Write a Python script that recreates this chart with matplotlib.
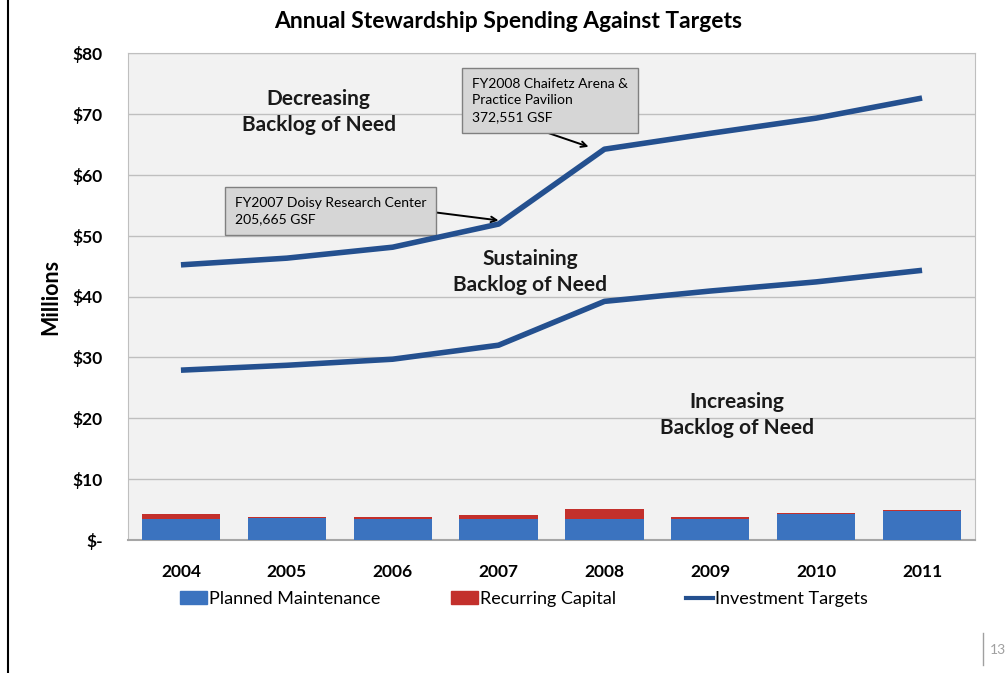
import matplotlib
matplotlib.use("Agg")
import matplotlib.pyplot as plt
import numpy as np
from matplotlib.patches import Patch
from matplotlib.lines import Line2D

plt.rcParams['font.family'] = ['Lato', 'DejaVu Sans']

years = ["2004", "2005", "2006", "2007", "2008", "2009", "2010", "2011"]
planned_maintenance = [3.45, 3.56, 3.50, 3.45, 3.45, 3.50, 4.32, 4.70]
recurring_capital = [0.90, 0.16, 0.33, 0.65, 1.70, 0.33, 0.16, 0.22]
target_upper = [45.2, 46.3, 48.1, 51.9, 64.2, 66.8, 69.3, 72.6]
target_lower = [27.9, 28.7, 29.7, 32.0, 39.2, 40.9, 42.4, 44.3]
ytick_vals = [0, 10, 20, 30, 40, 50, 60, 70, 80]
ytick_labels = ["$-", "$10", "$20", "$30", "$40", "$50", "$60", "$70", "$80"]

fig = plt.figure(figsize=(10.05, 6.73), dpi=100)
ax = fig.add_axes([128/1005, 1-540/673, (975-128)/1005, (540-53)/673])
ax.set_facecolor('#f2f2f2')

x = np.arange(len(years))
line_color = '#24508f'
ax.bar(x, planned_maintenance, width=0.74, color='#3b73bf', zorder=3,
       label='Planned Maintenance')
ax.bar(x, recurring_capital, bottom=planned_maintenance, width=0.74,
       color='#c3302c', zorder=3, label='Recurring Capital')
ax.plot(x, target_upper, color=line_color, lw=4.0, zorder=4,
        solid_capstyle='butt', label='Investment Targets')
ax.plot(x, target_lower, color=line_color, lw=4.0, zorder=4,
        solid_capstyle='butt')

ax.set_xlim(-0.5, 7.5)
ax.set_ylim(0, 80)
ax.set_yticks(ytick_vals)
ax.set_yticklabels(ytick_labels, fontsize=12.5, fontweight='bold')
ax.set_xticks(x)
ax.set_xticklabels(years, fontsize=12.5, fontweight='bold')
ax.tick_params(axis='both', length=0)
ax.tick_params(axis='y', pad=18)
ax.tick_params(axis='x', pad=17)
ax.yaxis.grid(True, color='#bfbfbf', lw=1.0, zorder=0)
ax.set_axisbelow(True)
for s in ['top', 'right', 'left']:
    ax.spines[s].set_color('#bfbfbf')
ax.spines['bottom'].set_color('#a6a6a6')
ax.spines['bottom'].set_linewidth(1.5)

ax.set_ylabel('Millions', fontsize=15.5, fontweight='bold', labelpad=8)

fig.text(508/1005, 1-22/673, 'Annual Stewardship Spending Against Targets',
         ha='center', va='center', fontsize=16.5, fontweight='bold')

# region labels
lab_kw = dict(ha='center', va='center', fontsize=15, fontweight='bold',
              linespacing=1.38, color='#1a1a1a')
ax.text(1.3, 70.3, 'Decreasing\nBacklog of Need', **lab_kw)
ax.text(3.3, 44.1, 'Sustaining\nBacklog of Need', **lab_kw)
ax.text(5.25, 20.6, 'Increasing\nBacklog of Need', **lab_kw)

# callout boxes
box = dict(boxstyle='square,pad=0.7', facecolor='#d6d6d6', edgecolor='#808080', lw=1)
ax.annotate('FY2007 Doisy Research Center\n205,665 GSF',
            xy=(3.0, target_upper[3] + 0.6), xytext=(0.51, 54.0),
            fontsize=10, ha='left', va='center', bbox=box, linespacing=1.45,
            arrowprops=dict(arrowstyle='->', color='black', lw=1.4,
                            shrinkA=0, shrinkB=0,
                            relpos=(1.0, 0.5)))
ax.annotate('FY2008 Chaifetz Arena &\nPractice Pavilion\n372,551 GSF',
            xy=(3.85, 64.6), xytext=(2.75, 72.2),
            fontsize=10, ha='left', va='center', bbox=box, linespacing=1.45,
            arrowprops=dict(arrowstyle='->', color='black', lw=1.4,
                            shrinkA=0, shrinkB=0,
                            relpos=(0.3, 0.0)))

# legend
handles = [Patch(color='#3b73bf'), Patch(color='#c3302c'),
           Line2D([], [], color=line_color, lw=3)]
labels = ['Planned Maintenance', 'Recurring Capital', 'Investment Targets']
leg = fig.legend(handles, labels, loc='center', bbox_to_anchor=(524/1005, 1-599/673),
                 ncol=3, frameon=False, fontsize=13, handlelength=1.5,
                 handletextpad=0.1, columnspacing=3.9)

# slide decorations
fig.add_artist(Line2D([8/1005, 8/1005], [0, 1], color='black', lw=1.5))
fig.add_artist(Line2D([983/1005, 983/1005], [1-665/673, 1-633/673], color='#a0a0a0', lw=1))
fig.text(990/1005, 1-650/673, '13', fontsize=10, color='#a0a0a0', va='center')

fig.savefig('out.png', dpi=100)
